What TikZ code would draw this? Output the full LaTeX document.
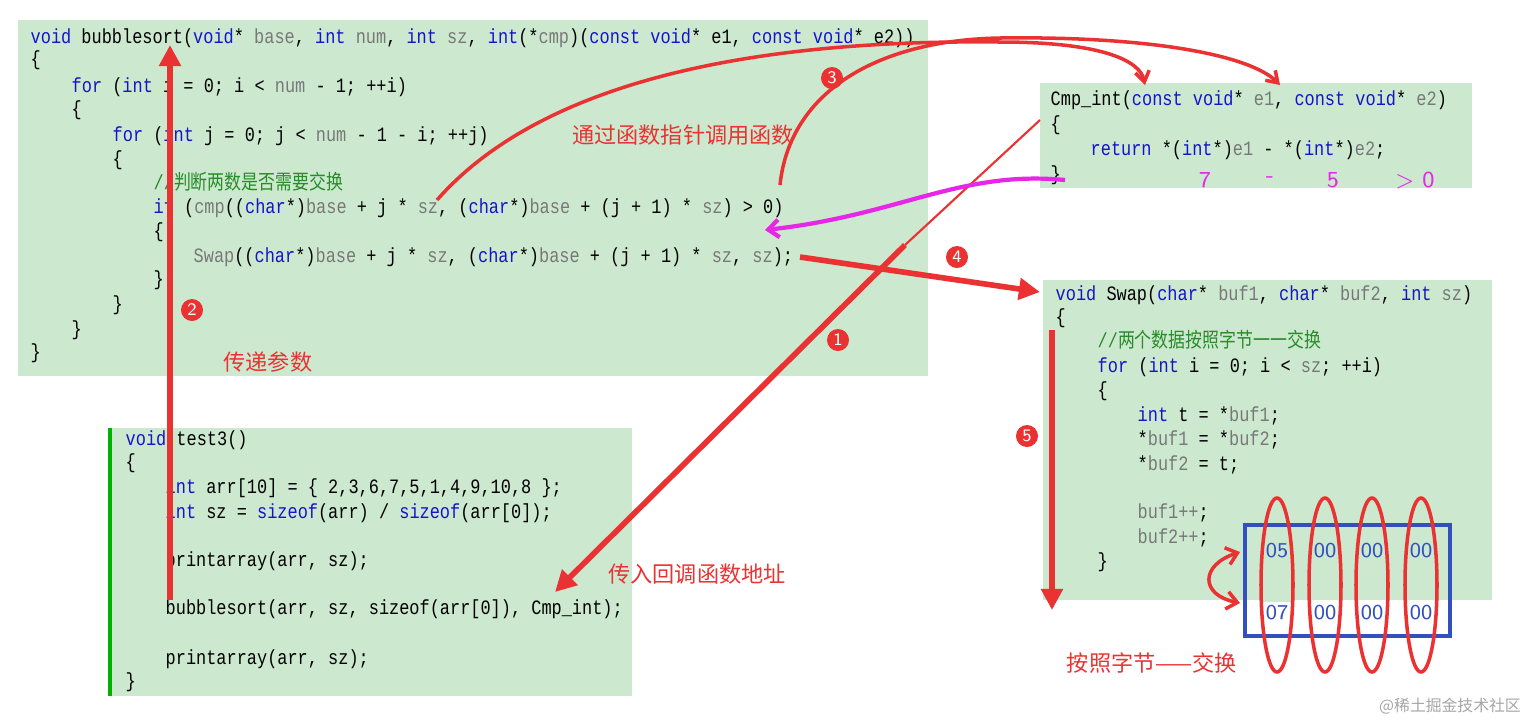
\documentclass[tikz,border=0pt]{standalone}
\usepackage{fontspec}
\setmonofont[FakeStretch=0.83]{Liberation Mono}
\newfontfamily\cjk{Noto Sans CJK SC}
\newfontfamily\cjkcode[FakeStretch=0.83]{Noto Sans CJK SC}
\usetikzlibrary{arrows.meta}
\definecolor{bg}{RGB}{204,232,207}
\definecolor{kwc}{RGB}{20,20,200}
\definecolor{gyc}{RGB}{120,120,120}
\definecolor{cmc}{RGB}{40,140,40}
\definecolor{rd}{RGB}{235,50,50}
\definecolor{mg}{RGB}{230,40,230}
\definecolor{bl}{RGB}{50,80,190}
\newcommand\kw[1]{\textcolor{kwc}{#1}}
\newcommand\gy[1]{\textcolor{gyc}{#1}}
\tikzset{
 code/.style={anchor=base west,inner sep=0pt,font=\ttfamily\fontsize{5.8}{6}\selectfont},
 box/.style={fill=bg,draw=none},
 num/.style={circle,fill=rd,text=white,inner sep=0pt,minimum size=0.22cm,font=\sffamily\fontsize{5}{5}\selectfont},
 lbl/.style={text=rd,inner sep=0pt,font=\cjk\fontsize{6.3}{7}\selectfont},
 big/.style={rd,line width=1.6pt,-{Triangle[length=6pt,width=6pt]}},
 thin/.style={rd,line width=0.6pt,-{Straight Barb[length=3pt,width=4pt]}},
 hx/.style={text=bl,inner sep=0pt,font=\sffamily\fontsize{6}{6}\selectfont}
}
\begin{document}
\begin{tikzpicture}[x=0.01cm,y=-0.01cm]
\useasboundingbox (0,0) rectangle (1535,723);
\fill[white] (0,0) rectangle (1535,723);
% boxes
\fill[box] (18,20) rectangle (928,376);
\fill[box] (1040,83) rectangle (1472,188);
\fill[box] (1043,280) rectangle (1492,600);
\fill[box] (108,428) rectangle (632,696);
\fill[green!70!black] (108,428) rectangle (112,696);
% bubblesort
\node[code] (b1) at (30,43) {\kw{void} bubblesort(\kw{void}* \gy{base}, \kw{int} \gy{num}, \kw{int} \gy{sz}, \kw{int}(*\gy{cmp})(\kw{const} \kw{void}* e1, \kw{const} \kw{void}* e2))};
\node[code] at (30,65) {\{};
\node[code] at (71,92) {\kw{for} (\kw{int} i = 0; i < \gy{num} - 1; ++i)};
\node[code] at (71,115) {\{};
\node[code] at (112,141) {\kw{for} (\kw{int} j = 0; j < \gy{num} - 1 - i; ++j)};
\node[code] at (112,165) {\{};
\node[code] at (153,189) {\textcolor{cmc}{//\cjkcode 判断两数是否需要交换}};
\node[code] (bif) at (153,213) {\kw{if} (\gy{cmp}((\kw{char}*)\gy{base} + j * \gy{sz}, (\kw{char}*)\gy{base} + (j + 1) * \gy{sz}) > 0)};
\node[code] at (153,237) {\{};
\node[code] (bsw) at (193,262) {\gy{Swap}((\kw{char}*)\gy{base} + j * \gy{sz}, (\kw{char}*)\gy{base} + (j + 1) * \gy{sz}, \gy{sz});};
\node[code] at (153,285) {\}};
\node[code] at (112,310) {\}};
\node[code] at (71,335) {\}};
\node[code] at (30,358) {\}};
% cmp
\node[code] (c1) at (1050,105) {Cmp\_int(\kw{const} \kw{void}* \gy{e1}, \kw{const} \kw{void}* \gy{e2})};
\node[code] at (1050,130) {\{};
\node[code] at (1090,155) {\kw{return} *(\kw{int}*)\gy{e1} - *(\kw{int}*)\gy{e2};};
\node[code] (cend) at (1050,180) {\}};
\foreach \t/\x in {7/1205,-/1270,5/1333,{> 0}/1415}
  \node[text=mg,font=\sffamily\fontsize{6.5}{6}\selectfont] at (\x,180) {\t};
% swap
\node[code] (s1) at (1055,300) {\kw{void} Swap(\kw{char}* \gy{buf1}, \kw{char}* \gy{buf2}, \kw{int} \gy{sz})};
\node[code] at (1055,323) {\{};
\node[code] at (1097,347) {\textcolor{cmc}{//\cjkcode 两个数据按照字节一一交换}};
\node[code] at (1097,372) {\kw{for} (\kw{int} i = 0; i < \gy{sz}; ++i)};
\node[code] at (1097,396) {\{};
\node[code] at (1137,421) {\kw{int} t = *\gy{buf1};};
\node[code] at (1137,445) {*\gy{buf1} = *\gy{buf2};};
\node[code] at (1137,470) {*\gy{buf2} = t;};
\node[code] at (1137,518) {\gy{buf1++};};
\node[code] at (1137,543) {\gy{buf2++};};
\node[code] at (1097,567) {\}};
% test3
\node[code] at (125,445) {\kw{void} test3()};
\node[code] at (125,468) {\{};
\node[code] at (165,493) {\kw{int} arr[10] = \{ 2,3,6,7,5,1,4,9,10,8 \};};
\node[code] at (165,518) {\kw{int} sz = \kw{sizeof}(arr) / \kw{sizeof}(arr[0]);};
\node[code] at (165,566) {printarray(arr, sz);};
\node[code] (tb) at (165,614) {bubblesort(arr, sz, sizeof(arr[0]), Cmp\_int);};
\node[code] at (165,664) {printarray(arr, sz);};
\node[code] at (125,687) {\}};
% bytes
\draw[bl,line width=1.2pt] (1245,525) rectangle (1450,636);
\foreach \x in {1277,1325,1372,1421}{
  \node[hx] at (\x,551) {00};
  \node[hx] at (\x,613) {00};
}
\fill[bg] (1262,540) rectangle (1292,562);
\fill[bg] (1262,602) rectangle (1292,600);
\fill[white] (1262,602) rectangle (1292,624);
\node[hx] at (1277,551) {05};
\node[hx] at (1277,613) {07};
\foreach \x in {1277,1325,1372,1421}
  \draw[rd,line width=1pt] (\x,585) ellipse [x radius=16,y radius=87];
\draw[rd,line width=1pt,{Straight Barb[length=3pt,width=5pt]}-{Straight Barb[length=3pt,width=5pt]}] (1240,552) .. controls (1200,565) and (1200,595) .. (1240,603);
% arrows
\coordinate (p2s) at (170,600); \coordinate (p2e) at (170,45);
\draw[big] (p2s) -- (p2e);
\node[num] at (192,310) {2};
\node[lbl] at (268,362) {传递参数};
\coordinate (p1a) at (1040,120); \coordinate (p1b) at (905,245); \coordinate (p1e) at (555,592);
\draw[rd,line width=0.6pt] (p1a) -- (p1b);
\draw[big] (p1b) -- (p1e);
\node[num] at (838,340) {1};
\node[lbl] at (697,574) {传入回调函数地址};
\coordinate (p4s) at (800,257); \coordinate (p4e) at (1040,292);
\draw[big] (p4s) -- (p4e);
\node[num] at (957,257) {4};
\coordinate (p3a) at (437,200); \coordinate (p3ae) at (1145,85);
\draw[thin,line width=1pt] (p3a) .. controls (560,60) and (820,40) .. (1000,42) .. controls (1100,42) and (1140,60) .. (p3ae);
\coordinate (p3b) at (780,185); \coordinate (p3be) at (1280,85);
\draw[thin,line width=1pt] (p3b) .. controls (790,90) and (880,40) .. (1000,38) .. controls (1150,36) and (1250,55) .. (p3be);
\node[num] at (832,78) {3};
\node[lbl] at (683,135) {通过函数指针调用函数};
\coordinate (pma) at (1065,180); \coordinate (pme) at (765,230);
\draw[mg,line width=1.2pt,-{Straight Barb[length=3pt,width=5pt]}] (pma) .. controls (960,170) and (900,215) .. (pme);
\coordinate (p5s) at (1052,330); \coordinate (p5e) at (1052,610);
\draw[big] (p5s) -- (p5e);
\node[num] at (1027,436) {5};
\node[lbl] at (1152,663) {按照字节——交换};
\node[text=gray!70,font=\cjk\fontsize{4.5}{5}\selectfont] at (1450,706) {@稀土掘金技术社区};
\end{tikzpicture}
\end{document}
